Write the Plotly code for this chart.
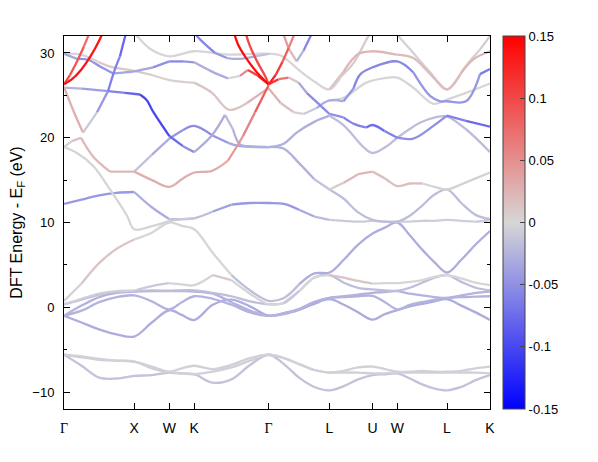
import plotly.graph_objects as go

# k-path (units of 2pi/a) and high-symmetry points
hs_k = [0.0, 1.0, 1.5, 1.8536, 2.9142, 3.7802, 4.3926, 4.7462, 5.4533, 6.0656]
hs_labels = ["Γ", "X", "W", "K", "Γ", "L", "U", "W", "L", "K"]

# common k grid for the lower bands
k_grid = [0.0, 0.25, 0.5, 0.75, 1.0, 1.25, 1.5, 1.677, 1.854, 2.119, 2.384, 2.649,
          2.914, 3.131, 3.347, 3.564, 3.780, 3.984, 4.188, 4.393, 4.570, 4.746,
          4.923, 5.100, 5.277, 5.453, 5.657, 5.861, 6.066]

band_A = [-5.6, -6.9, -8.3, -8.4, -8.1, -8.0, -7.7, -7.8, -7.9, -8.9, -8.5, -6.8, -5.6, -6.7, -8.3,
          -9.4, -9.8, -9.3, -8.5, -8.0, -7.9, -7.8, -8.4, -9.1, -9.6, -9.8, -9.4, -8.6, -8.0]
band_B = [-5.6, -5.9, -6.2, -6.3, -6.4, -7.2, -7.7, -7.8, -7.9, -7.6, -7.1, -6.3, -5.6, -6.0, -6.7,
          -7.4, -7.7, -7.7, -7.7, -7.8, -7.8, -7.7, -7.7, -7.7, -7.7, -7.7, -7.7, -7.7, -7.8]
band_C = [-5.6, -5.8, -6.1, -6.3, -6.4, -7.0, -7.6, -7.2, -6.9, -7.3, -6.8, -6.0, -5.6, -6.0, -6.7,
          -7.4, -7.7, -7.5, -7.1, -7.0, -7.3, -7.6, -7.6, -7.5, -7.6, -7.6, -7.5, -7.2, -7.0]
band_D = [-1.0, -1.8, -2.6, -3.2, -3.45, -1.8, -0.35, -0.9, -1.5, 0.3, 0.9, 0.1, -1.0, -0.8, -0.3,
          0.4, 0.95, 0.3, -0.6, -1.45, -0.8, -0.35, 0.1, 0.4, 0.7, 0.95, 0.2, -0.6, -1.5]
band_E = [-1.0, -0.4, 0.6, 1.2, 1.4, 0.7, -0.25, 0.6, 1.3, 1.0, 0.3, -0.6, -1.0, -0.7, -0.2,
          0.6, 1.1, 1.2, 1.3, 1.35, 0.6, -0.25, 0.3, 0.6, 0.9, 1.1, 1.2, 1.25, 1.3]
band_F = [-1.0, 0.2, 1.2, 1.7, 1.85, 1.9, 1.9, 1.9, 1.85, 1.6, 0.6, -0.4, -1.0, -0.7, -0.2,
          0.6, 1.1, 1.3, 1.5, 1.7, 1.8, 1.9, 1.6, 1.4, 1.2, 1.1, 1.4, 1.7, 1.85]
band_G = [0.35, 0.9, 1.5, 1.85, 1.9, 2.0, 1.95, 2.0, 2.0, 1.7, 1.3, 0.7, 0.35, 0.5, 1.9,
          3.5, 3.8, 2.9, 2.3, 2.1, 2.0, 1.95, 2.3, 2.9, 3.5, 3.8, 3.0, 2.3, 2.0]
band_I = [0.35, 1.0, 1.6, 1.9, 1.95, 2.5, 2.85, 2.7, 2.6, 3.8, 3.2, 1.6, 0.35, 0.5, 1.9,
          3.5, 3.8, 3.5, 3.1, 2.8, 2.85, 2.85, 3.0, 3.2, 3.6, 3.8, 3.4, 2.9, 2.6]
band_H = [0.75, 2.8, 5.2, 6.9, 8.0, 8.8, 10.0, 9.6, 9.2, 6.4, 3.8, 2.0, 0.75, 1.1, 2.7,
          4.0, 4.1, 5.6, 7.4, 8.7, 9.4, 10.0, 8.5, 6.8, 5.3, 4.1, 5.6, 7.4, 9.0]
band_P = [12.2, 12.7, 13.2, 13.5, 13.6, 11.8, 10.4, 10.4, 10.5, 11.3, 12.1, 12.3, 12.3, 12.2, 11.5,
          10.7, 10.3, 10.2, 10.1, 10.2, 10.1, 10.1, 10.1, 10.2, 10.2, 10.3, 10.2, 10.1, 10.3]

w_A, w_B, w_C = -0.015, -0.005, -0.005
w_D, w_E, w_F, w_G = -0.03, -0.025, -0.025, -0.018
w_I = [-0.005, -0.005, -0.005, -0.005, -0.01, -0.01, -0.01, -0.005, 0.0, 0.01, 0.01, 0.0, -0.005, -0.01, -0.01,
       0.0, 0.01, 0.015, 0.015, 0.01, 0.0, -0.005, 0.0, 0.0, 0.0, 0.0, 0.0, -0.005, -0.005]
w_H = [0.0, 0.01, 0.015, 0.015, 0.01, 0.0, 0.0, 0.0, 0.0, -0.005, -0.01, -0.015, -0.02, -0.02, -0.02,
       -0.025, -0.03, -0.03, -0.03, -0.03, -0.03, -0.03, -0.03, -0.03, -0.03, -0.03, -0.03, -0.03, -0.03]
w_P = [-0.045, -0.045, -0.045, -0.045, -0.04, -0.03, -0.02, -0.01, -0.01, -0.03, -0.045, -0.05, -0.045, -0.045, -0.035,
       -0.03, -0.01, -0.005, -0.005, -0.01, -0.01, -0.01, -0.005, -0.005, -0.005, -0.005, -0.005, -0.005, -0.01]

# upper bands, each with its own k knots, energies (eV) and weights
m_k = [0.0, 0.185, 0.413, 0.655, 0.897, 1.0, 1.267, 1.5, 1.694, 1.854]
m_e = [18.9, 18.2, 16.7, 13.9, 10.8, 9.2, 9.6, 10.2, 10.4, 10.5]
m_w = [0.0, 0.0, 0.0, -0.005, 0.0, 0.005, 0.0, -0.01, -0.01, -0.01]

c2_k = [0.0, 0.114, 0.242, 0.413, 0.655, 1.0, 1.253, 1.5, 1.694, 1.854, 2.107, 2.335, 2.478, 2.549, 2.720, 2.914]
c2_e = [18.9, 19.6, 20.0, 17.8, 16.0, 16.0, 15.0, 14.2, 15.2, 15.9, 16.1, 17.3, 19.2, 20.2, 23.0, 26.2]
c2_w = [0.0, 0.01, 0.02, 0.025, 0.02, 0.02, 0.025, 0.03, 0.03, 0.025, 0.03, 0.04, 0.04, 0.05, 0.07, 0.1]

xr_k = [1.0, 1.253, 1.5, 1.694, 1.854, 2.107, 2.335, 2.506, 2.914]
xr_e = [16.0, 18.0, 19.9, 20.9, 21.4, 20.3, 19.4, 19.0, 18.9]
xr_w = [-0.01, -0.02, -0.04, -0.05, -0.06, -0.05, -0.04, -0.03, -0.03]

db_k = [0.0, 0.256, 0.627, 0.869, 1.082, 1.182, 1.267, 1.5, 1.694, 1.854, 2.107, 2.292, 2.406, 2.506, 2.648, 2.914]
db_e = [25.9, 25.8, 25.5, 25.3, 25.1, 24.4, 23.1, 20.2, 19.0, 18.3, 20.3, 22.7, 21.0, 19.2, 19.0, 18.9]
db_w = [-0.02, -0.03, -0.05, -0.07, -0.09, -0.11, -0.11, -0.09, -0.06, -0.04, -0.03, -0.02, -0.02, -0.03, -0.03, -0.03]

pv_k = [0.0, 0.128, 0.271, 0.470, 0.627, 0.726, 0.797, 0.869, 0.911]
pv_e = [26.0, 23.3, 20.6, 23.0, 25.5, 28.1, 29.6, 31.9, 33.0]
pv_w = [0.03, 0.03, 0.02, -0.04, -0.05, -0.06, -0.07, -0.08, -0.08]

t1_k = [0.0, 0.242, 0.498, 0.655, 1.0, 1.253, 1.5, 1.694, 1.854, 2.107, 2.349, 2.606, 2.914]
t1_e = [29.9, 29.8, 28.9, 28.4, 27.9, 27.4, 26.8, 26.6, 26.5, 25.3, 23.3, 24.1, 25.9]
t1_w = [0.0, 0.0, 0.01, 0.015, 0.01, 0.01, 0.0, 0.0, 0.01, 0.015, 0.005, 0.02, 0.03]

b29_k = [0.0, 0.185, 0.342, 0.513, 0.698, 0.869, 1.039, 1.267, 1.5, 1.694, 1.854, 2.107, 2.335, 2.506, 2.620, 2.762, 2.914]
b29_e = [29.9, 29.3, 29.2, 28.4, 27.6, 27.7, 27.9, 28.3, 29.0, 29.0, 28.9, 27.8, 27.0, 27.3, 28.0, 27.3, 26.3]
b29_w = [-0.02, -0.05, -0.05, -0.05, -0.04, -0.03, -0.03, -0.04, -0.06, -0.05, -0.04, -0.03, -0.02, 0.02, 0.09, 0.12, 0.14]

t2_k = [0.911, 1.039, 1.225, 1.5, 1.854, 2.335, 2.720, 2.914, 3.085, 3.370, 3.569, 3.780, 3.951, 4.122, 4.335, 4.421]
t2_e = [33.0, 32.0, 30.5, 29.6, 30.2, 29.8, 29.9, 29.9, 29.7, 27.8, 26.6, 25.7, 27.3, 28.8, 32.0, 33.0]
t2_w = [0.0, 0.0, 0.0, 0.0, 0.005, 0.0, 0.0, 0.0, 0.0, 0.0, 0.0, 0.005, 0.01, 0.01, 0.01, 0.01]

bt_k = [1.794, 1.937, 2.150, 2.321, 2.506, 2.720, 2.914]
bt_e = [33.0, 31.6, 30.0, 29.4, 29.3, 29.6, 29.9]
bt_w = [-0.06, -0.06, -0.05, -0.04, -0.03, -0.02, -0.01]

r1_k = [0.0, 0.114, 0.242, 0.370, 0.498, 0.570]
r1_e = [26.3, 26.9, 28.0, 29.5, 31.4, 32.8]
r1_w = [0.13, 0.14, 0.14, 0.14, 0.13, 0.13]

r2_k = [0.0, 0.085, 0.185, 0.285, 0.370]
r2_e = [26.3, 27.4, 29.0, 30.8, 32.5]
r2_w = [0.1, 0.1, 0.09, 0.08, 0.07]

ra_k = [2.406, 2.478, 2.577, 2.748, 2.914]
ra_e = [32.8, 31.0, 29.6, 27.7, 26.3]
ra_w = [0.14, 0.14, 0.14, 0.14, 0.14]

rb_k = [2.563, 2.648, 2.762, 2.862, 2.914]
rb_e = [33.0, 30.8, 28.8, 27.3, 26.3]
rb_w = [0.1, 0.1, 0.1, 0.1, 0.1]

rd_k = [2.914, 3.014, 3.113, 3.199, 3.284]
rd_e = [26.3, 27.4, 29.0, 30.6, 32.3]
rd_w = [0.13, 0.12, 0.1, 0.07, 0.05]

vt_k = [3.113, 3.199, 3.313, 3.412, 3.512, 3.569]
vt_e = [32.5, 30.5, 29.0, 30.3, 32.0, 33.0]
vt_w = [0.04, 0.04, 0.0, -0.05, -0.06, -0.06]

bw_k = [2.914, 3.056, 3.199, 3.341, 3.455, 3.626, 3.780, 3.979, 4.136, 4.307, 4.393, 4.563, 4.746,
        4.974, 5.259, 5.453, 5.724, 6.066]
bw_e = [26.3, 26.9, 27.1, 26.5, 25.3, 24.0, 22.8, 22.4, 21.6, 21.2, 21.5, 20.8, 20.0,
        19.9, 21.4, 22.6, 22.0, 21.3]
bw_w = [0.13, 0.1, 0.04, -0.02, -0.05, -0.06, -0.05, -0.05, -0.06, -0.07, -0.08, -0.07, -0.05,
        -0.05, -0.05, -0.05, -0.07, -0.08]

gw_k = [2.914, 3.128, 3.313, 3.569, 3.780, 3.979, 4.122, 4.264, 4.393, 4.578, 4.746, 4.917, 5.074,
        5.287, 5.453, 5.724, 6.066]
gw_e = [18.9, 19.3, 20.6, 21.9, 22.6, 21.5, 20.2, 18.9, 18.2, 18.9, 20.0, 21.0, 21.8,
        22.4, 22.5, 21.0, 18.3]
gw_w = [-0.03, -0.03, -0.03, -0.03, -0.02, -0.02, -0.02, -0.02, -0.01, -0.015, -0.02, -0.02, -0.02,
        -0.02, -0.02, -0.02, -0.015]

bu_k = [2.914, 3.085, 3.270, 3.412, 3.597, 3.780, 3.979, 4.122, 4.221, 4.393, 4.746, 4.974, 5.216,
        5.358, 5.453, 5.724, 5.923, 6.066]
bu_e = [25.8, 24.1, 23.0, 22.8, 23.5, 24.4, 24.3, 25.8, 27.5, 28.3, 29.0, 27.7, 24.9,
        24.3, 24.3, 24.3, 27.5, 28.1]
bu_w = [0.03, 0.02, 0.01, 0.0, -0.02, -0.03, -0.04, -0.05, -0.06, -0.06, -0.06, -0.05, -0.04,
        -0.04, -0.04, -0.04, -0.06, -0.07]

gu_k = [3.780, 3.979, 4.307, 4.549, 4.746, 4.974, 5.259, 5.453, 5.724, 6.066]
gu_e = [24.4, 24.7, 26.5, 27.0, 27.1, 25.9, 24.0, 24.5, 25.3, 26.4]
gu_w = [-0.01, 0.0, 0.005, 0.01, 0.0, 0.0, -0.01, -0.005, 0.0, 0.005]

pu_k = [3.780, 3.979, 4.193, 4.393, 4.734, 4.974, 5.159, 5.330, 5.453, 5.652, 5.837, 6.066]
pu_e = [25.7, 27.8, 29.9, 30.2, 29.8, 29.4, 28.0, 26.5, 25.7, 27.6, 29.3, 30.2]
pu_w = [0.01, 0.02, 0.025, 0.025, 0.02, 0.02, 0.02, 0.02, 0.015, 0.02, 0.025, 0.025]

arm_k = [4.706, 4.931, 5.216, 5.453, 5.724, 5.923, 6.066]
arm_e = [32.5, 30.4, 27.7, 25.7, 28.5, 30.4, 32.0]
arm_w = [0.01, 0.005, 0.0, 0.0, 0.005, 0.01, 0.01]

gl1_k = [2.914, 3.131, 3.347, 3.564, 3.780]
gl1_e = [18.9, 18.7, 17.0, 15.1, 13.9]
gl1_w = [-0.03, -0.03, -0.025, -0.02, -0.01]

pw_k = [3.780, 3.984, 4.188, 4.393, 4.570, 4.746, 4.923, 5.100, 5.277, 5.453, 5.657, 5.861, 6.066]
pw_e = [13.9, 14.7, 15.7, 16.0, 15.2, 14.3, 14.6, 14.6, 14.2, 13.9, 14.5, 15.2, 15.9]
pw_w = [0.0, 0.015, 0.025, 0.02, 0.02, 0.02, 0.01, 0.01, 0.0, 0.0, 0.0, 0.005, 0.01]

gl_k = [3.780, 3.984, 4.188, 4.393, 4.570, 4.746, 4.923, 5.100, 5.277, 5.453, 5.657, 5.861, 6.066]
gl_e = [13.9, 12.8, 11.2, 10.3, 10.1, 10.1, 10.8, 12.0, 13.3, 13.9, 12.3, 10.9, 10.4]
gl_w = [-0.01, -0.015, -0.02, -0.02, -0.02, -0.02, -0.02, -0.02, -0.02, -0.015, -0.02, -0.02, -0.02]

cbar_vals = [-0.15, -0.1, -0.05, 0, 0.05, 0.1, 0.15]
cbar_text = ["-0.15", "-0.1", "-0.05", "0", "0.05", "0.1", "0.15"]

MID = 215


def weight_color(w):
    t = max(-1.0, min(1.0, w / 0.15))
    if t >= 0:
        r, g, b = MID + (255 - MID) * t, MID * (1 - t), MID * (1 - t)
    else:
        r, g, b = MID * (1 + t), MID * (1 + t), MID + (255 - MID) * (-t)
    return "rgb(%d,%d,%d)" % (round(r), round(g), round(b))


fig = go.Figure()


def add_band(k, e, w):
    if not isinstance(w, list):
        fig.add_trace(go.Scatter(x=k, y=e, mode="lines", hoverinfo="skip", showlegend=False,
                                 line=dict(color=weight_color(w), width=2.3, shape="spline")))
        return
    seg = [round((w[i] + w[i + 1]) / 2 / 0.015) for i in range(len(k) - 1)]
    start = 0
    for i in range(1, len(seg) + 1):
        if i == len(seg) or seg[i] != seg[start]:
            ws = w[start:i + 1]
            fig.add_trace(go.Scatter(x=k[start:i + 1], y=e[start:i + 1], mode="lines",
                                     hoverinfo="skip", showlegend=False,
                                     line=dict(color=weight_color(sum(ws) / len(ws)), width=2.3,
                                               shape="spline")))
            start = i


for e, w in [(band_A, w_A), (band_B, w_B), (band_C, w_C), (band_D, w_D), (band_E, w_E),
             (band_F, w_F), (band_G, w_G), (band_I, w_I), (band_H, w_H), (band_P, w_P)]:
    add_band(k_grid, e, w)

for k, e, w in [(m_k, m_e, m_w), (gl1_k, gl1_e, gl1_w), (gl_k, gl_e, gl_w), (pw_k, pw_e, pw_w),
                (xr_k, xr_e, xr_w), (gw_k, gw_e, gw_w), (gu_k, gu_e, gu_w), (t2_k, t2_e, t2_w),
                (arm_k, arm_e, arm_w), (t1_k, t1_e, t1_w), (pu_k, pu_e, pu_w), (db_k, db_e, db_w),
                (bt_k, bt_e, bt_w), (b29_k, b29_e, b29_w), (bu_k, bu_e, bu_w), (bw_k, bw_e, bw_w),
                (pv_k, pv_e, pv_w), (vt_k, vt_e, vt_w), (c2_k, c2_e, c2_w), (r2_k, r2_e, r2_w),
                (rb_k, rb_e, rb_w), (r1_k, r1_e, r1_w), (ra_k, ra_e, ra_w), (rd_k, rd_e, rd_w)]:
    add_band(k, e, w)

# colour bar
fig.add_trace(go.Scatter(
    x=[None], y=[None], mode="markers", showlegend=False, hoverinfo="skip",
    marker=dict(color=[0], cmin=-0.15, cmax=0.15, showscale=True,
                colorscale=[[0, "rgb(0,0,255)"], [0.5, "rgb(%d,%d,%d)" % (MID, MID, MID)], [1, "rgb(255,0,0)"]],
                colorbar=dict(x=1.0305, xanchor="left", y=0.5, yanchor="middle", len=1,
                              thickness=22, outlinewidth=1, outlinecolor="#444",
                              xpad=0, ypad=0, ticks="inside", ticklen=5, tickcolor="#444",
                              tickvals=cbar_vals, ticktext=cbar_text,
                              tickfont=dict(size=13, color="black"))),
))

# mirrored ticks on the left edge of the colour bar
for v in cbar_vals[1:-1]:
    yy = (v + 0.15) / 0.3
    fig.add_shape(type="line", xref="paper", yref="paper", x0=1.0305, x1=1.0425, y0=yy, y1=yy,
                  line=dict(color="#444", width=1))

gamma = '<span style="font-family:Liberation Serif, Times New Roman, serif">Γ</span>'
# the page body adds an 8 px offset, so the margins are shifted by that amount
fig.update_layout(
    width=598, height=462,
    margin=dict(l=56, r=116, t=28, b=61, autoexpand=False),
    paper_bgcolor="white", plot_bgcolor="white",
    font=dict(family="Liberation Sans, Arial, Helvetica, sans-serif", size=13, color="black"),
    showlegend=False,
)
fig.update_xaxes(
    range=[0, hs_k[-1]], tickvals=hs_k, automargin=False,
    ticktext=[gamma if s == "Γ" else s for s in hs_labels],
    ticks="inside", ticklen=6, tickcolor="black", mirror="ticks",
    showline=True, linecolor="black", linewidth=1, showgrid=False, zeroline=False,
    ticklabelstandoff=6, tickfont=dict(size=14),
)
fig.update_yaxes(
    range=[-12, 32], tickvals=[-10, 0, 10, 20, 30], automargin=False,
    ticks="inside", ticklen=6, tickcolor="black", mirror="ticks",
    minor=dict(ticks="inside", ticklen=3, tickvals=[-5, 5, 15, 25], tickcolor="black"),
    showline=True, linecolor="black", linewidth=1, showgrid=False, zeroline=False,
    ticklabelstandoff=6,
    title=dict(text="DFT Energy - E<sub>F</sub> (eV)", standoff=14),
)

fig.write_html("out.html")
